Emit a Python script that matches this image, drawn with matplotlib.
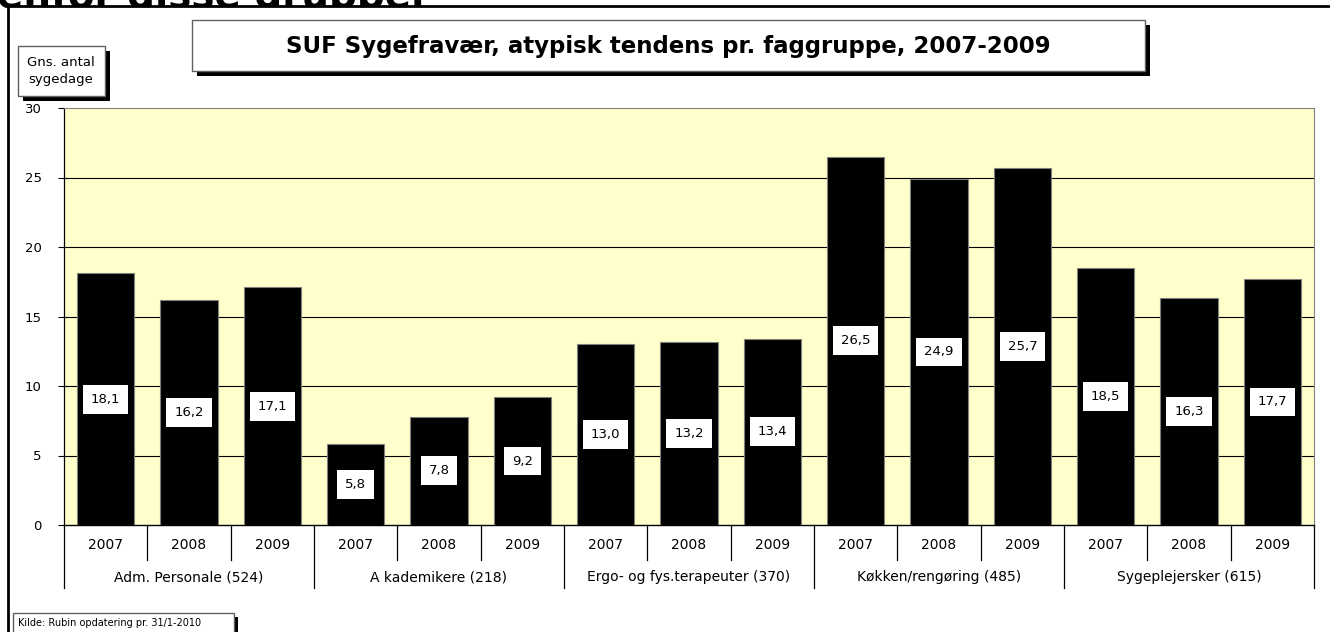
import matplotlib
matplotlib.use('Agg')
import matplotlib.pyplot as plt
from matplotlib.patches import Rectangle
from matplotlib.lines import Line2D

plt.rcParams['font.family'] = ['DejaVu Sans']

# data
groups = ['Adm. Personale (524)', 'A kademikere (218)', 'Ergo- og fys.terapeuter (370)',
          'Køkken/rengøring (485)', 'Sygeplejersker (615)']
years = ['2007', '2008', '2009']
values = [
    [18.1, 16.2, 17.1],
    [5.8, 7.8, 9.2],
    [13.0, 13.2, 13.4],
    [26.5, 24.9, 25.7],
    [18.5, 16.3, 17.7],
]
yticks = [0, 5, 10, 15, 20, 25, 30]

W, H = 1330, 632
fig = plt.figure(figsize=(W / 100, H / 100), dpi=100)


def px(x, y):
    # pixel coords (from top-left) -> figure fraction
    return x / W, 1 - y / H


# cropped heading from the slide behind the chart
fig.text(-3 / W, 1 - 8 / H, 'enfor disse grupper', fontsize=28, fontweight='bold',
         ha='left', va='baseline', zorder=0)

# white chart area covering the heading's lower part, framed top and left
fig.patches.append(Rectangle(px(8, H), (W - 8) / W, (H - 6) / H,
                             transform=fig.transFigure, facecolor='white',
                             edgecolor='none', zorder=1))
fig.lines.append(Line2D([8 / W, 8 / W, 1], [0, 1 - 6 / H, 1 - 6 / H],
                        transform=fig.transFigure, color='black', lw=2, zorder=1.5))

ax = fig.add_axes([64 / W, 1 - 525 / H, 1250 / W, 417 / H])
ax.set_zorder(2)
ax.set_facecolor('#FFFFCC')

n = len(years)
xs, hs = [], []
for gi, vals in enumerate(values):
    for yi, v in enumerate(vals):
        xs.append(gi * n + yi)
        hs.append(v)

ax.bar(xs, hs, width=0.69, color='black', edgecolor='#808080', lw=0.8, zorder=3)
for x, v in zip(xs, hs):
    ax.text(x, v / 2, f'{v:.1f}'.replace('.', ','), ha='center', va='center',
            fontsize=9.5, zorder=4,
            bbox=dict(boxstyle='square,pad=0.6', facecolor='white', edgecolor='none'))

ax.set_xlim(-0.5, len(xs) - 0.5)
ax.set_ylim(0, 30)
ax.set_yticks(yticks)
ax.set_yticklabels([str(t) for t in yticks], fontsize=9.5)
ax.tick_params(axis='y', length=4, width=0.8, pad=12)
ax.set_xticks([])
for t in yticks[1:-1]:
    ax.axhline(t, color='black', lw=0.8, zorder=1)

for s in ['top', 'right']:
    ax.spines[s].set_color('#808080')
    ax.spines[s].set_linewidth(0.8)
ax.spines['left'].set_linewidth(0.9)
ax.spines['bottom'].set_linewidth(1.0)

# category axis: years and groups
tr = ax.get_xaxis_transform()
for x in xs:
    ax.text(x, -0.048, years[x % n], transform=tr, ha='center', va='center', fontsize=10)
for gi, g in enumerate(groups):
    ax.text(gi * n + (n - 1) / 2, -0.125, g, transform=tr, ha='center', va='center',
            fontsize=10)
for k in range(len(xs) + 1):
    bottom = -0.151 if k % n == 0 else -0.084
    ax.plot([k - 0.5, k - 0.5], [0, bottom], transform=tr, color='black', lw=0.9,
            clip_on=False)


def shadow_box(x0, y0, x1, y1, off=5):
    fx, fy = px(x0, y1)
    w, h = (x1 - x0) / W, (y1 - y0) / H
    fig.patches.append(Rectangle((fx + off / W, fy - off / H), w, h, transform=fig.transFigure,
                                 facecolor='black', edgecolor='none', zorder=5))
    fig.patches.append(Rectangle((fx, fy), w, h, transform=fig.transFigure,
                                 facecolor='white', edgecolor='#606060', lw=1, zorder=6))


# title box
shadow_box(192, 20, 1145, 71)
fig.text(*px(668, 46), 'SUF Sygefravær, atypisk tendens pr. faggruppe, 2007-2009',
         fontsize=16.5, fontweight='bold', ha='center', va='center', zorder=7)

# y-axis label box
shadow_box(18, 46, 105, 96)
fig.text(*px(61, 71), 'Gns. antal\nsygedage', fontsize=9.5, ha='center', va='center',
         linespacing=1.4, zorder=7)

# source box
shadow_box(13, 613, 234, 640, off=4)
fig.text(*px(18, 623), 'Kilde: Rubin opdatering pr. 31/1-2010', fontsize=7,
         ha='left', va='center', zorder=7)

fig.savefig('out.png', dpi=100)
